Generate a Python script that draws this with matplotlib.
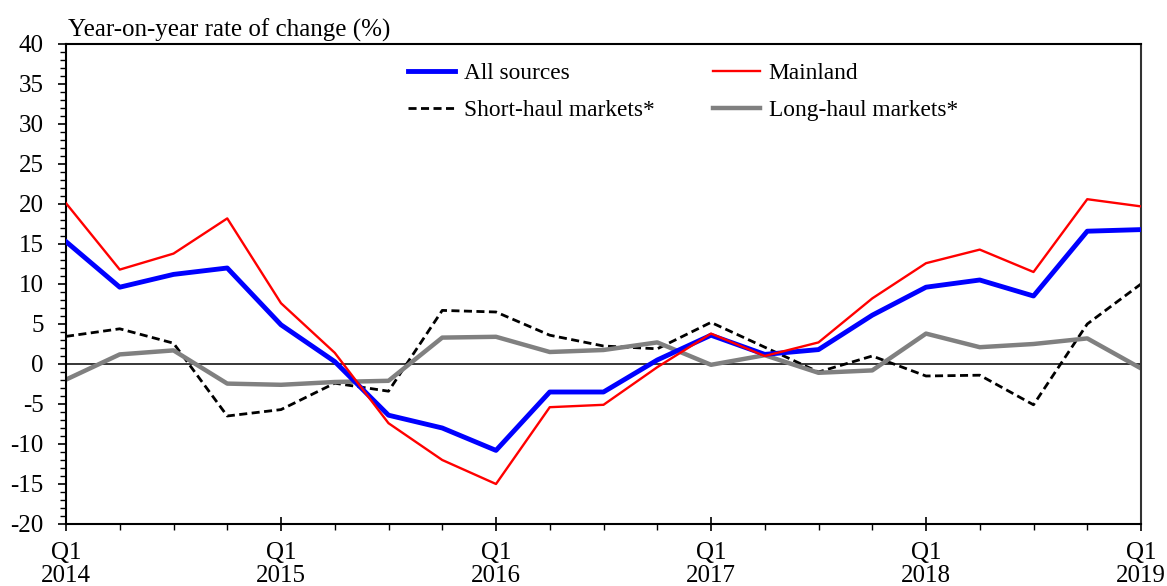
import matplotlib
matplotlib.use("Agg")
import matplotlib.pyplot as plt
from matplotlib.ticker import MultipleLocator, FixedLocator
import numpy as np

plt.rcParams['font.family'] = ['Liberation Serif', 'DejaVu Serif']
plt.rcParams['axes.unicode_minus'] = False

quarters = ["Q1 2014", "Q2 2014", "Q3 2014", "Q4 2014",
            "Q1 2015", "Q2 2015", "Q3 2015", "Q4 2015",
            "Q1 2016", "Q2 2016", "Q3 2016", "Q4 2016",
            "Q1 2017", "Q2 2017", "Q3 2017", "Q4 2017",
            "Q1 2018", "Q2 2018", "Q3 2018", "Q4 2018",
            "Q1 2019"]

all_sources = [15.3, 9.6, 11.2, 12.0, 4.9, 0.3, -6.4, -8.0, -10.8, -3.5, -3.5, 0.5,
               3.6, 1.2, 1.8, 6.1, 9.6, 10.5, 8.5, 16.6, 16.8]
mainland = [20.1, 11.8, 13.8, 18.2, 7.6, 1.4, -7.4, -12.0, -15.0, -5.4, -5.1, -0.4,
            3.8, 1.0, 2.7, 8.2, 12.6, 14.3, 11.5, 20.6, 19.7]
short_haul = [3.45, 4.4, 2.6, -6.5, -5.7, -2.4, -3.4, 6.7, 6.5, 3.6, 2.25, 1.9,
              5.2, 2.1, -1.0, 1.0, -1.5, -1.4, -5.1, 5.0, 10.0]
long_haul = [-1.95, 1.2, 1.7, -2.45, -2.6, -2.25, -2.1, 3.3, 3.4, 1.5, 1.75, 2.7,
             -0.1, 1.1, -1.1, -0.8, 3.8, 2.1, 2.5, 3.2, -0.55]

major_labels = ["Q1\n2014", "Q1\n2015", "Q1\n2016", "Q1\n2017", "Q1\n2018", "Q1\n2019"]

fig = plt.figure(figsize=(11.67, 5.86), dpi=100)
ax = fig.add_axes([66/1167, 1-524/586, (1141-66)/1167, (524-44)/586])

x = np.arange(len(quarters))
fs = 18
lfs = 16.8

ax.axhline(0, color='black', lw=1.1, zorder=1)
h_all, = ax.plot(x, all_sources, color='#0000ff', lw=3.5, label='All sources', zorder=3)
h_main, = ax.plot(x, mainland, color='#ff0000', lw=1.7, label='Mainland', zorder=4)
h_short, = ax.plot(x, short_haul, color='black', lw=2.0, ls=(0, (2.9, 1.6)),
                   label='Short-haul markets*', zorder=2)
h_long, = ax.plot(x, long_haul, color='#808080', lw=3.2, label='Long-haul markets*', zorder=2)

ax.set_xlim(0, len(quarters) - 1)
ax.set_ylim(-20, 40)

ax.yaxis.set_major_locator(MultipleLocator(5))
ax.yaxis.set_minor_locator(MultipleLocator(1))
ax.xaxis.set_major_locator(FixedLocator(x[::4]))
ax.xaxis.set_minor_locator(FixedLocator(x))
ax.set_xticklabels(major_labels)

ax.tick_params(axis='y', which='major', direction='out', length=6, width=1.2,
               labelsize=fs, pad=10)
ax.tick_params(axis='y', which='minor', direction='out', length=4, width=1.0)
ax.tick_params(axis='x', which='major', direction='inout', length=10, width=1.2,
               labelsize=fs, pad=8)
ax.tick_params(axis='x', which='minor', direction='out', length=4, width=1.0)
for lab in ax.get_xticklabels():
    lab.set_linespacing(1.08)

for s in ['left', 'bottom', 'top']:
    ax.spines[s].set_linewidth(1.5)
    ax.spines[s].set_color('black')
ax.spines['right'].set_linewidth(1.5)
ax.spines['right'].set_color('#333333')

ax.text(2/1075, 1.004, "Year-on-year rate of change (%)", transform=ax.transAxes,
        fontsize=fs, ha='left', va='bottom')

leg = ax.legend([h_all, h_short, h_main, h_long],
                ['All sources', 'Short-haul markets*', 'Mainland', 'Long-haul markets*'],
                ncol=2, frameon=False, fontsize=lfs,
                loc='upper left', bbox_to_anchor=(342/1075, 1 - 19/480),
                handlelength=2.0, handletextpad=0.39, columnspacing=2.5,
                labelspacing=0.66, borderaxespad=0, borderpad=0)

fig.savefig("out.png", dpi=100)
